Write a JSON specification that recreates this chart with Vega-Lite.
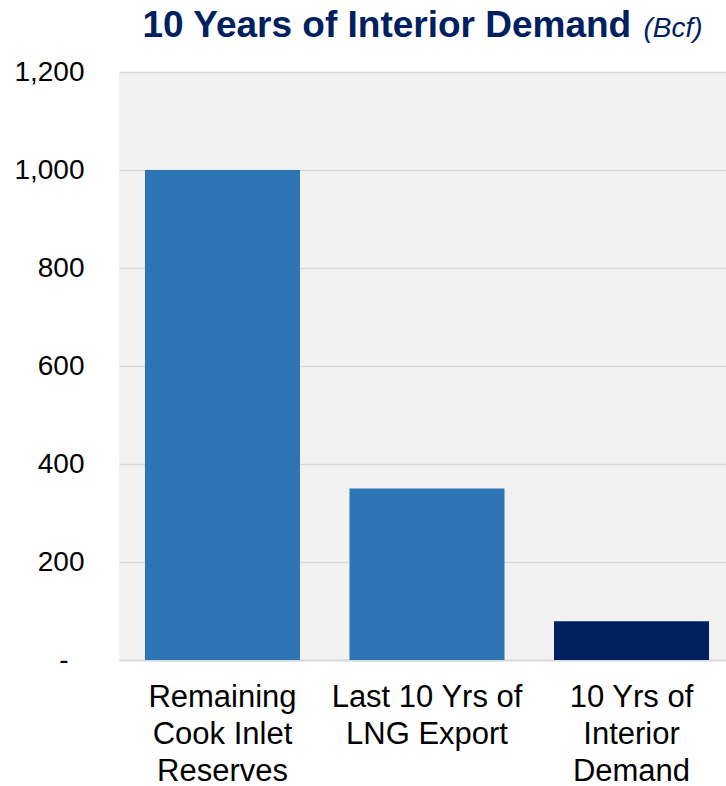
{
  "$schema": "https://vega.github.io/schema/vega-lite/v6.json",
  "width": 616,
  "height": 588,
  "autosize": {"type": "none"},
  "padding": {"left": 119, "top": 72, "right": 0, "bottom": 126},
  "background": "white",
  "config": {
    "view": {"fill": "#f2f2f2", "stroke": null},
    "font": "Liberation Sans"
  },
  "layer": [
    {
      "data": {
        "values": [
          {"category": "Remaining Cook Inlet Reserves", "value": 1000, "group": "supply"},
          {"category": "Last 10 Yrs of LNG Export", "value": 350, "group": "supply"},
          {"category": "10 Yrs of Interior Demand", "value": 79, "group": "demand"}
        ]
      },
      "mark": {"type": "bar"},
      "encoding": {
        "x": {
          "field": "category",
          "type": "nominal",
          "sort": null,
          "scale": {"paddingInner": 0.242, "paddingOuter": 0.127},
          "axis": {
            "title": null,
            "domain": true,
            "domainColor": "#d9d9d9",
            "domainWidth": 2,
            "ticks": false,
            "labelAngle": 0,
            "labelFontSize": 31,
            "labelColor": "#000000",
            "labelPadding": 22,
            "labelLineHeight": 37,
            "labelLimit": 400,
            "labelBaseline": "top",
            "labelExpr": "datum.value == 'Remaining Cook Inlet Reserves' ? ['Remaining', 'Cook Inlet', 'Reserves'] : datum.value == 'Last 10 Yrs of LNG Export' ? ['Last 10 Yrs of', 'LNG Export'] : ['10 Yrs of', 'Interior', 'Demand']"
          }
        },
        "y": {
          "field": "value",
          "type": "quantitative",
          "scale": {"domain": [0, 1200]},
          "axis": {
            "title": null,
            "values": [0, 200, 400, 600, 800, 1000, 1200],
            "domain": false,
            "ticks": false,
            "grid": true,
            "gridColor": "#d9d9d9",
            "gridWidth": 1.5,
            "labelFontSize": 28,
            "labelColor": "#000000",
            "labelPadding": {"condition": {"test": "datum.value == 0", "value": 51}, "value": 35},
            "labelExpr": "datum.value == 0 ? '-' : format(datum.value, ',')"
          }
        },
        "color": {
          "field": "group",
          "type": "nominal",
          "scale": {"domain": ["supply", "demand"], "range": ["#2e75b6", "#002060"]},
          "legend": null
        }
      }
    },
    {
      "data": {"values": [{"heading": "10 Years of Interior Demand"}]},
      "mark": {
        "type": "text",
        "font": "Liberation Sans",
        "fontSize": 37,
        "fontWeight": "bold",
        "color": "#002060",
        "align": "left",
        "baseline": "alphabetic",
        "dx": -80,
        "dy": -35
      },
      "encoding": {
        "x": {"datum": "Remaining Cook Inlet Reserves", "type": "nominal"},
        "y": {"datum": 1200, "type": "quantitative"},
        "text": {"field": "heading"}
      }
    },
    {
      "data": {"values": [{"unit": "(Bcf)"}]},
      "mark": {
        "type": "text",
        "font": "Liberation Sans",
        "fontSize": 28,
        "fontStyle": "italic",
        "color": "#002060",
        "align": "left",
        "baseline": "alphabetic",
        "dx": 12,
        "dy": -35
      },
      "encoding": {
        "x": {"datum": "10 Yrs of Interior Demand", "type": "nominal"},
        "y": {"datum": 1200, "type": "quantitative"},
        "text": {"field": "unit"}
      }
    }
  ]
}
